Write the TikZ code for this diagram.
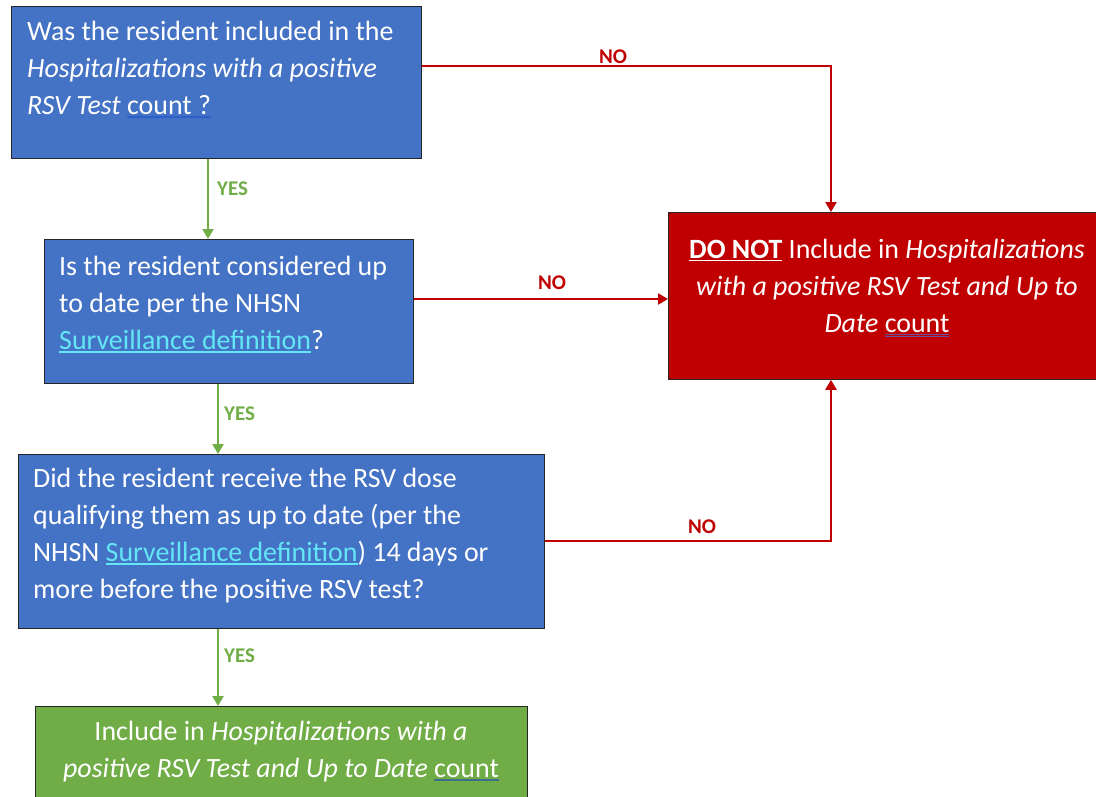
\documentclass[tikz,border=0pt]{standalone}
\usepackage{fontspec}
\setmainfont{Carlito}
\usetikzlibrary{arrows.meta}
\definecolor{boxblue}{HTML}{4472C4}
\definecolor{boxred}{HTML}{C00000}
\definecolor{boxgreen}{HTML}{70AD47}
\definecolor{linkc}{HTML}{63E6F5}
\definecolor{spellblue}{HTML}{2E5FC8}
\definecolor{spellpurple}{HTML}{6A4FA0}
\definecolor{spellgreen}{HTML}{3F6E8C}
\newsavebox\ulbox
\newcommand\colul[2]{\sbox\ulbox{#2}\rlap{\color{#1}\rule[-4pt]{\wd\ulbox}{1.8pt}}\usebox\ulbox}
\newcommand\dblul[2]{\sbox\ulbox{#2}\rlap{\color{#1}\rule[-3.5pt]{\wd\ulbox}{1pt}}\rlap{\color{#1}\rule[-5.5pt]{\wd\ulbox}{1pt}}\usebox\ulbox}
\newcommand\lnk[1]{\colul{linkc}{\textcolor{linkc}{#1}}}
\begin{document}
\begin{tikzpicture}[x=1bp,y=-1bp,
  box/.style={draw=black!85, line width=0.8pt, inner sep=0pt, anchor=north west},
  txt/.style={text=white, font=\fontsize{28}{37}\selectfont, inner sep=0pt},
  yesarrow/.style={draw=boxgreen, line width=2.2pt, -{Triangle[width=11pt,length=10pt]}},
  noarrow/.style={draw=boxred, line width=2.2pt, -{Triangle[width=11pt,length=10pt]}},
  yeslbl/.style={text=boxgreen, font=\bfseries\fontsize{21}{22}\selectfont, inner sep=0pt},
  nolbl/.style={text=boxred, font=\bfseries\fontsize{21}{22}\selectfont, inner sep=0pt}]
\useasboundingbox (0,0) rectangle (1096,797);
% boxes
\node[box, fill=boxblue, minimum width=410bp, minimum height=152bp] (q1) at (11,6) {};
\node[box, fill=boxblue, minimum width=369bp, minimum height=144bp] (q2) at (44,239) {};
\node[box, fill=boxred, minimum width=432bp, minimum height=167bp] (q3) at (668,212) {};
\node[box, fill=boxblue, minimum width=526bp, minimum height=174bp] (q4) at (18,454) {};
\node[box, fill=boxgreen, minimum width=492bp, minimum height=110bp] (q5) at (35,706) {};
% texts (anchor = baseline of the last line)
\node[txt, align=left, anchor=base west] (t1) at (27,114)
  {Was the resident included in the\\ \textit{Hospitalizations with a positive}\\ \textit{RSV Test} \colul{spellblue}{count ?}};
\node[txt, align=left, anchor=base west] (t2) at (59,349)
  {Is the resident considered up\\ to date per the NHSN\\ \lnk{Surveillance definition}?};
\node[txt, align=center, anchor=base] (t3) at (887,332)
  {\underline{\textbf{DO NOT}} Include in \textit{Hospitalizations}\\ \textit{with a positive RSV Test and Up to}\\ \textit{Date} \dblul{spellpurple}{count}};
\node[txt, align=left, anchor=base west] (t4) at (33,598)
  {Did the resident receive the RSV dose\\ qualifying them as up to date (per the\\ NHSN \lnk{Surveillance definition}) 14 days or\\ more before the positive RSV test?};
\node[txt, align=center, anchor=base] (t5) at (281,777)
  {Include in \textit{Hospitalizations with a}\\ \textit{positive RSV Test and Up to Date} \colul{spellgreen}{count}};
% connector helpers
\coordinate (ya) at (208,0);
\coordinate (yb) at (218,0);
\coordinate (ra) at (831,66);
\coordinate (rb) at (831,541);
\coordinate (rc) at (0,299);
% yes arrows
\draw[yesarrow] (q1.south -| ya) -- (q2.north -| ya);
\draw[yesarrow] (q2.south -| yb) -- (q4.north -| yb);
\draw[yesarrow] (q4.south -| yb) -- (q5.north -| yb);
% no arrows
\draw[noarrow] (q1.east |- ra) -- (ra) -- (q3.north -| ra);
\draw[noarrow] (q2.east |- rc) -- (q3.west |- rc);
\draw[noarrow] (q4.east |- rb) -- (rb) -- (q3.south -| rb);
% labels
\node[yeslbl, anchor=west] (y1) at (217,189) {YES};
\node[yeslbl, anchor=west] (y2) at (224,414) {YES};
\node[yeslbl, anchor=west] (y3) at (224,656) {YES};
\node[nolbl] (n1) at (613,57) {NO};
\node[nolbl] (n2) at (552,283) {NO};
\node[nolbl] (n3) at (702,527) {NO};
\end{tikzpicture}
\end{document}
